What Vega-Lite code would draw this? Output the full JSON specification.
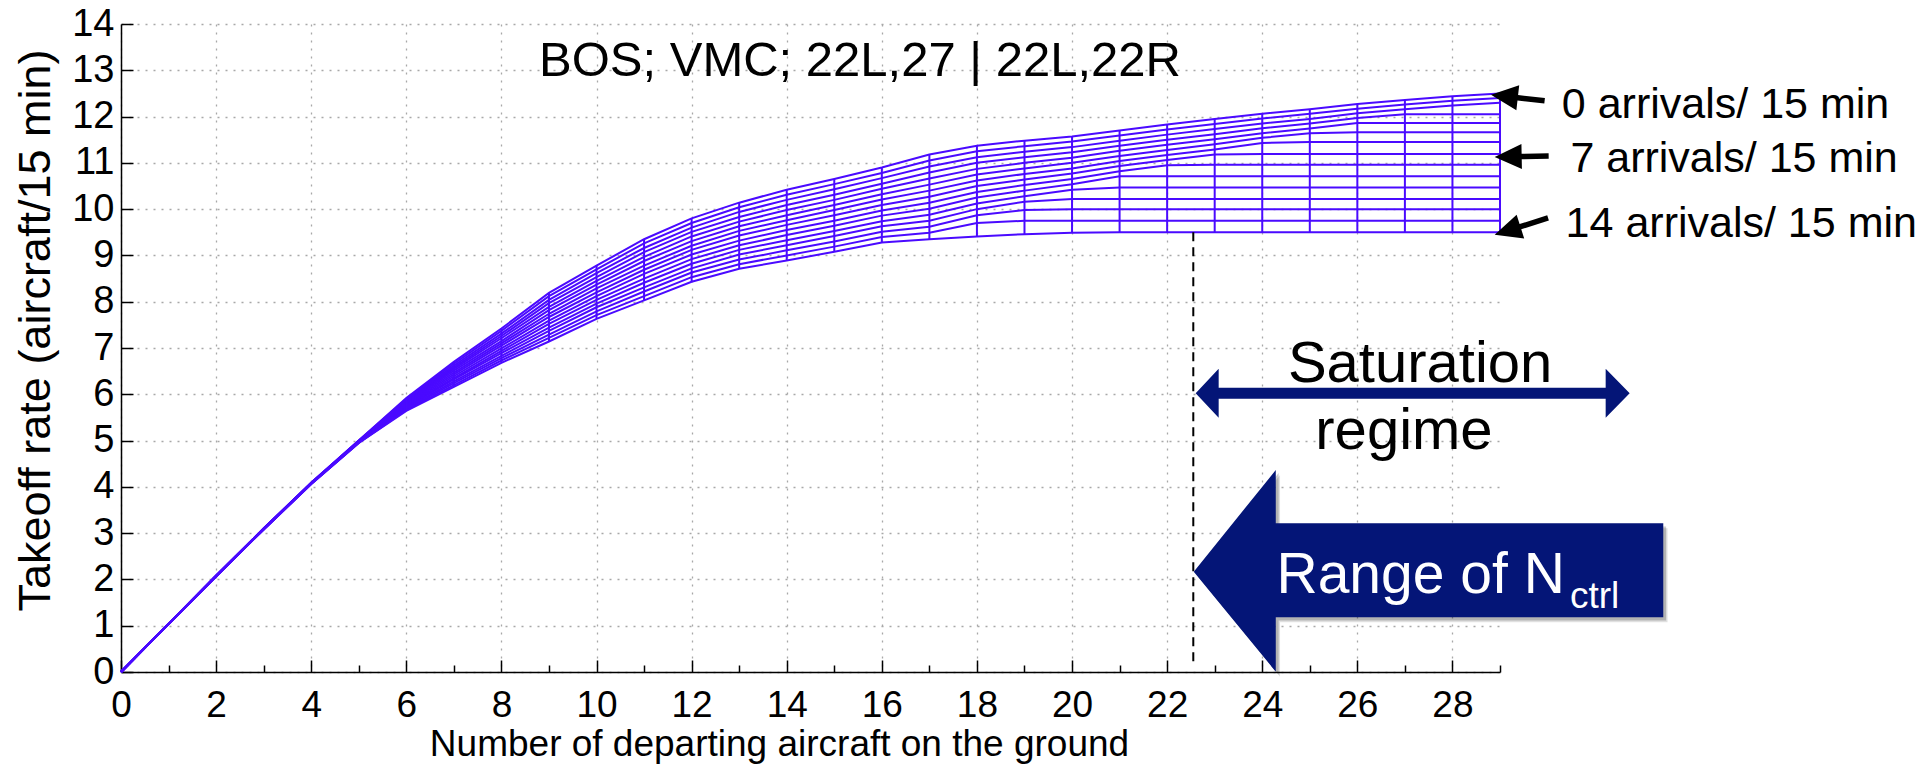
{
"$schema": "https://vega.github.io/schema/vega-lite/v6.json",
"width": 1379, "height": 648,
"autosize": "none",
"padding": {"left": 121, "top": 24, "right": 429, "bottom": 93},
"background": "white",
"config": {"font": "Liberation Sans", "view": {"stroke": null}},
"datasets": {
"mesh": [
{"x":0,"a":0,"y":0},{"x":0,"a":1,"y":0},{"x":0,"a":2,"y":0},{"x":0,"a":3,"y":0},{"x":0,"a":4,"y":0},{"x":0,"a":5,"y":0},{"x":0,"a":6,"y":0},{"x":0,"a":7,"y":0},{"x":0,"a":8,"y":0},{"x":0,"a":9,"y":0},{"x":0,"a":10,"y":0},{"x":0,"a":11,"y":0},{"x":0,"a":12,"y":0},{"x":0,"a":13,"y":0},{"x":0,"a":14,"y":0},
{"x":1,"a":0,"y":1.04},{"x":1,"a":1,"y":1.04},{"x":1,"a":2,"y":1.04},{"x":1,"a":3,"y":1.04},{"x":1,"a":4,"y":1.04},{"x":1,"a":5,"y":1.04},{"x":1,"a":6,"y":1.04},{"x":1,"a":7,"y":1.04},{"x":1,"a":8,"y":1.04},{"x":1,"a":9,"y":1.04},{"x":1,"a":10,"y":1.04},{"x":1,"a":11,"y":1.04},{"x":1,"a":12,"y":1.04},{"x":1,"a":13,"y":1.04},{"x":1,"a":14,"y":1.04},
{"x":2,"a":0,"y":2.08},{"x":2,"a":1,"y":2.08},{"x":2,"a":2,"y":2.08},{"x":2,"a":3,"y":2.08},{"x":2,"a":4,"y":2.08},{"x":2,"a":5,"y":2.08},{"x":2,"a":6,"y":2.08},{"x":2,"a":7,"y":2.07},{"x":2,"a":8,"y":2.07},{"x":2,"a":9,"y":2.07},{"x":2,"a":10,"y":2.07},{"x":2,"a":11,"y":2.07},{"x":2,"a":12,"y":2.07},{"x":2,"a":13,"y":2.07},{"x":2,"a":14,"y":2.07},
{"x":3,"a":0,"y":3.1},{"x":3,"a":1,"y":3.1},{"x":3,"a":2,"y":3.1},{"x":3,"a":3,"y":3.1},{"x":3,"a":4,"y":3.09},{"x":3,"a":5,"y":3.09},{"x":3,"a":6,"y":3.09},{"x":3,"a":7,"y":3.09},{"x":3,"a":8,"y":3.09},{"x":3,"a":9,"y":3.09},{"x":3,"a":10,"y":3.09},{"x":3,"a":11,"y":3.08},{"x":3,"a":12,"y":3.08},{"x":3,"a":13,"y":3.08},{"x":3,"a":14,"y":3.08},
{"x":4,"a":0,"y":4.09},{"x":4,"a":1,"y":4.09},{"x":4,"a":2,"y":4.09},{"x":4,"a":3,"y":4.08},{"x":4,"a":4,"y":4.08},{"x":4,"a":5,"y":4.08},{"x":4,"a":6,"y":4.08},{"x":4,"a":7,"y":4.07},{"x":4,"a":8,"y":4.07},{"x":4,"a":9,"y":4.07},{"x":4,"a":10,"y":4.07},{"x":4,"a":11,"y":4.07},{"x":4,"a":12,"y":4.06},{"x":4,"a":13,"y":4.06},{"x":4,"a":14,"y":4.06},
{"x":5,"a":0,"y":5.0},{"x":5,"a":1,"y":5.0},{"x":5,"a":2,"y":4.99},{"x":5,"a":3,"y":4.99},{"x":5,"a":4,"y":4.99},{"x":5,"a":5,"y":4.98},{"x":5,"a":6,"y":4.98},{"x":5,"a":7,"y":4.98},{"x":5,"a":8,"y":4.97},{"x":5,"a":9,"y":4.97},{"x":5,"a":10,"y":4.96},{"x":5,"a":11,"y":4.96},{"x":5,"a":12,"y":4.96},{"x":5,"a":13,"y":4.95},{"x":5,"a":14,"y":4.95},
{"x":6,"a":0,"y":5.92},{"x":6,"a":1,"y":5.9},{"x":6,"a":2,"y":5.88},{"x":6,"a":3,"y":5.86},{"x":6,"a":4,"y":5.84},{"x":6,"a":5,"y":5.82},{"x":6,"a":6,"y":5.8},{"x":6,"a":7,"y":5.78},{"x":6,"a":8,"y":5.76},{"x":6,"a":9,"y":5.74},{"x":6,"a":10,"y":5.72},{"x":6,"a":11,"y":5.7},{"x":6,"a":12,"y":5.68},{"x":6,"a":13,"y":5.66},{"x":6,"a":14,"y":5.64},
{"x":7,"a":0,"y":6.7},{"x":7,"a":1,"y":6.66},{"x":7,"a":2,"y":6.62},{"x":7,"a":3,"y":6.58},{"x":7,"a":4,"y":6.55},{"x":7,"a":5,"y":6.51},{"x":7,"a":6,"y":6.47},{"x":7,"a":7,"y":6.43},{"x":7,"a":8,"y":6.39},{"x":7,"a":9,"y":6.35},{"x":7,"a":10,"y":6.32},{"x":7,"a":11,"y":6.28},{"x":7,"a":12,"y":6.24},{"x":7,"a":13,"y":6.2},{"x":7,"a":14,"y":6.16},
{"x":8,"a":0,"y":7.42},{"x":8,"a":1,"y":7.37},{"x":8,"a":2,"y":7.31},{"x":8,"a":3,"y":7.26},{"x":8,"a":4,"y":7.21},{"x":8,"a":5,"y":7.15},{"x":8,"a":6,"y":7.1},{"x":8,"a":7,"y":7.05},{"x":8,"a":8,"y":6.99},{"x":8,"a":9,"y":6.94},{"x":8,"a":10,"y":6.89},{"x":8,"a":11,"y":6.83},{"x":8,"a":12,"y":6.78},{"x":8,"a":13,"y":6.73},{"x":8,"a":14,"y":6.68},
{"x":9,"a":0,"y":8.19},{"x":9,"a":1,"y":8.12},{"x":9,"a":2,"y":8.04},{"x":9,"a":3,"y":7.97},{"x":9,"a":4,"y":7.89},{"x":9,"a":5,"y":7.82},{"x":9,"a":6,"y":7.74},{"x":9,"a":7,"y":7.67},{"x":9,"a":8,"y":7.59},{"x":9,"a":9,"y":7.52},{"x":9,"a":10,"y":7.44},{"x":9,"a":11,"y":7.37},{"x":9,"a":12,"y":7.29},{"x":9,"a":13,"y":7.22},{"x":9,"a":14,"y":7.14},
{"x":10,"a":0,"y":8.78},{"x":10,"a":1,"y":8.7},{"x":10,"a":2,"y":8.62},{"x":10,"a":3,"y":8.53},{"x":10,"a":4,"y":8.45},{"x":10,"a":5,"y":8.37},{"x":10,"a":6,"y":8.29},{"x":10,"a":7,"y":8.2},{"x":10,"a":8,"y":8.12},{"x":10,"a":9,"y":8.04},{"x":10,"a":10,"y":7.96},{"x":10,"a":11,"y":7.88},{"x":10,"a":12,"y":7.79},{"x":10,"a":13,"y":7.71},{"x":10,"a":14,"y":7.63},
{"x":11,"a":0,"y":9.35},{"x":11,"a":1,"y":9.26},{"x":11,"a":2,"y":9.16},{"x":11,"a":3,"y":9.07},{"x":11,"a":4,"y":8.97},{"x":11,"a":5,"y":8.88},{"x":11,"a":6,"y":8.78},{"x":11,"a":7,"y":8.69},{"x":11,"a":8,"y":8.6},{"x":11,"a":9,"y":8.5},{"x":11,"a":10,"y":8.41},{"x":11,"a":11,"y":8.31},{"x":11,"a":12,"y":8.22},{"x":11,"a":13,"y":8.12},{"x":11,"a":14,"y":8.03},
{"x":12,"a":0,"y":9.8},{"x":12,"a":1,"y":9.7},{"x":12,"a":2,"y":9.6},{"x":12,"a":3,"y":9.51},{"x":12,"a":4,"y":9.41},{"x":12,"a":5,"y":9.31},{"x":12,"a":6,"y":9.21},{"x":12,"a":7,"y":9.12},{"x":12,"a":8,"y":9.02},{"x":12,"a":9,"y":8.92},{"x":12,"a":10,"y":8.82},{"x":12,"a":11,"y":8.72},{"x":12,"a":12,"y":8.63},{"x":12,"a":13,"y":8.53},{"x":12,"a":14,"y":8.43},
{"x":13,"a":0,"y":10.14},{"x":13,"a":1,"y":10.04},{"x":13,"a":2,"y":9.94},{"x":13,"a":3,"y":9.83},{"x":13,"a":4,"y":9.73},{"x":13,"a":5,"y":9.63},{"x":13,"a":6,"y":9.53},{"x":13,"a":7,"y":9.43},{"x":13,"a":8,"y":9.32},{"x":13,"a":9,"y":9.22},{"x":13,"a":10,"y":9.12},{"x":13,"a":11,"y":9.02},{"x":13,"a":12,"y":8.91},{"x":13,"a":13,"y":8.81},{"x":13,"a":14,"y":8.71},
{"x":14,"a":0,"y":10.42},{"x":14,"a":1,"y":10.31},{"x":14,"a":2,"y":10.2},{"x":14,"a":3,"y":10.09},{"x":14,"a":4,"y":9.98},{"x":14,"a":5,"y":9.87},{"x":14,"a":6,"y":9.76},{"x":14,"a":7,"y":9.66},{"x":14,"a":8,"y":9.55},{"x":14,"a":9,"y":9.44},{"x":14,"a":10,"y":9.33},{"x":14,"a":11,"y":9.22},{"x":14,"a":12,"y":9.11},{"x":14,"a":13,"y":9.0},{"x":14,"a":14,"y":8.89},
{"x":15,"a":0,"y":10.65},{"x":15,"a":1,"y":10.54},{"x":15,"a":2,"y":10.43},{"x":15,"a":3,"y":10.31},{"x":15,"a":4,"y":10.2},{"x":15,"a":5,"y":10.09},{"x":15,"a":6,"y":9.98},{"x":15,"a":7,"y":9.87},{"x":15,"a":8,"y":9.75},{"x":15,"a":9,"y":9.64},{"x":15,"a":10,"y":9.53},{"x":15,"a":11,"y":9.42},{"x":15,"a":12,"y":9.3},{"x":15,"a":13,"y":9.19},{"x":15,"a":14,"y":9.08},
{"x":16,"a":0,"y":10.9},{"x":16,"a":1,"y":10.78},{"x":16,"a":2,"y":10.67},{"x":16,"a":3,"y":10.55},{"x":16,"a":4,"y":10.44},{"x":16,"a":5,"y":10.32},{"x":16,"a":6,"y":10.21},{"x":16,"a":7,"y":10.09},{"x":16,"a":8,"y":9.97},{"x":16,"a":9,"y":9.86},{"x":16,"a":10,"y":9.74},{"x":16,"a":11,"y":9.63},{"x":16,"a":12,"y":9.51},{"x":16,"a":13,"y":9.4},{"x":16,"a":14,"y":9.28},
{"x":17,"a":0,"y":11.18},{"x":17,"a":1,"y":11.05},{"x":17,"a":2,"y":10.92},{"x":17,"a":3,"y":10.79},{"x":17,"a":4,"y":10.66},{"x":17,"a":5,"y":10.53},{"x":17,"a":6,"y":10.4},{"x":17,"a":7,"y":10.27},{"x":17,"a":8,"y":10.14},{"x":17,"a":9,"y":10.01},{"x":17,"a":10,"y":9.88},{"x":17,"a":11,"y":9.75},{"x":17,"a":12,"y":9.62},{"x":17,"a":13,"y":9.49},{"x":17,"a":14,"y":9.35},
{"x":18,"a":0,"y":11.37},{"x":18,"a":1,"y":11.25},{"x":18,"a":2,"y":11.12},{"x":18,"a":3,"y":11.0},{"x":18,"a":4,"y":10.87},{"x":18,"a":5,"y":10.75},{"x":18,"a":6,"y":10.62},{"x":18,"a":7,"y":10.5},{"x":18,"a":8,"y":10.37},{"x":18,"a":9,"y":10.25},{"x":18,"a":10,"y":10.12},{"x":18,"a":11,"y":10.0},{"x":18,"a":12,"y":9.87},{"x":18,"a":13,"y":9.7},{"x":18,"a":14,"y":9.41},
{"x":19,"a":0,"y":11.48},{"x":19,"a":1,"y":11.36},{"x":19,"a":2,"y":11.24},{"x":19,"a":3,"y":11.12},{"x":19,"a":4,"y":11.0},{"x":19,"a":5,"y":10.88},{"x":19,"a":6,"y":10.76},{"x":19,"a":7,"y":10.64},{"x":19,"a":8,"y":10.52},{"x":19,"a":9,"y":10.4},{"x":19,"a":10,"y":10.28},{"x":19,"a":11,"y":10.16},{"x":19,"a":12,"y":9.98},{"x":19,"a":13,"y":9.75},{"x":19,"a":14,"y":9.46},
{"x":20,"a":0,"y":11.57},{"x":20,"a":1,"y":11.46},{"x":20,"a":2,"y":11.34},{"x":20,"a":3,"y":11.23},{"x":20,"a":4,"y":11.11},{"x":20,"a":5,"y":11.0},{"x":20,"a":6,"y":10.88},{"x":20,"a":7,"y":10.77},{"x":20,"a":8,"y":10.65},{"x":20,"a":9,"y":10.54},{"x":20,"a":10,"y":10.42},{"x":20,"a":11,"y":10.22},{"x":20,"a":12,"y":10.0},{"x":20,"a":13,"y":9.75},{"x":20,"a":14,"y":9.49},
{"x":21,"a":0,"y":11.7},{"x":21,"a":1,"y":11.59},{"x":21,"a":2,"y":11.48},{"x":21,"a":3,"y":11.37},{"x":21,"a":4,"y":11.26},{"x":21,"a":5,"y":11.15},{"x":21,"a":6,"y":11.04},{"x":21,"a":7,"y":10.93},{"x":21,"a":8,"y":10.82},{"x":21,"a":9,"y":10.71},{"x":21,"a":10,"y":10.47},{"x":21,"a":11,"y":10.22},{"x":21,"a":12,"y":10.0},{"x":21,"a":13,"y":9.75},{"x":21,"a":14,"y":9.5},
{"x":22,"a":0,"y":11.83},{"x":22,"a":1,"y":11.72},{"x":22,"a":2,"y":11.61},{"x":22,"a":3,"y":11.5},{"x":22,"a":4,"y":11.39},{"x":22,"a":5,"y":11.28},{"x":22,"a":6,"y":11.17},{"x":22,"a":7,"y":11.06},{"x":22,"a":8,"y":10.95},{"x":22,"a":9,"y":10.71},{"x":22,"a":10,"y":10.47},{"x":22,"a":11,"y":10.22},{"x":22,"a":12,"y":10.0},{"x":22,"a":13,"y":9.75},{"x":22,"a":14,"y":9.5},
{"x":23,"a":0,"y":11.95},{"x":23,"a":1,"y":11.84},{"x":23,"a":2,"y":11.73},{"x":23,"a":3,"y":11.62},{"x":23,"a":4,"y":11.51},{"x":23,"a":5,"y":11.4},{"x":23,"a":6,"y":11.29},{"x":23,"a":7,"y":11.18},{"x":23,"a":8,"y":10.96},{"x":23,"a":9,"y":10.71},{"x":23,"a":10,"y":10.47},{"x":23,"a":11,"y":10.22},{"x":23,"a":12,"y":10.0},{"x":23,"a":13,"y":9.75},{"x":23,"a":14,"y":9.5},
{"x":24,"a":0,"y":12.06},{"x":24,"a":1,"y":11.96},{"x":24,"a":2,"y":11.85},{"x":24,"a":3,"y":11.75},{"x":24,"a":4,"y":11.64},{"x":24,"a":5,"y":11.54},{"x":24,"a":6,"y":11.43},{"x":24,"a":7,"y":11.19},{"x":24,"a":8,"y":10.96},{"x":24,"a":9,"y":10.71},{"x":24,"a":10,"y":10.47},{"x":24,"a":11,"y":10.22},{"x":24,"a":12,"y":10.0},{"x":24,"a":13,"y":9.75},{"x":24,"a":14,"y":9.5},
{"x":25,"a":0,"y":12.16},{"x":25,"a":1,"y":12.06},{"x":25,"a":2,"y":11.95},{"x":25,"a":3,"y":11.85},{"x":25,"a":4,"y":11.74},{"x":25,"a":5,"y":11.64},{"x":25,"a":6,"y":11.45},{"x":25,"a":7,"y":11.19},{"x":25,"a":8,"y":10.96},{"x":25,"a":9,"y":10.71},{"x":25,"a":10,"y":10.47},{"x":25,"a":11,"y":10.22},{"x":25,"a":12,"y":10.0},{"x":25,"a":13,"y":9.75},{"x":25,"a":14,"y":9.5},
{"x":26,"a":0,"y":12.27},{"x":26,"a":1,"y":12.17},{"x":26,"a":2,"y":12.07},{"x":26,"a":3,"y":11.97},{"x":26,"a":4,"y":11.86},{"x":26,"a":5,"y":11.66},{"x":26,"a":6,"y":11.45},{"x":26,"a":7,"y":11.19},{"x":26,"a":8,"y":10.96},{"x":26,"a":9,"y":10.71},{"x":26,"a":10,"y":10.47},{"x":26,"a":11,"y":10.22},{"x":26,"a":12,"y":10.0},{"x":26,"a":13,"y":9.75},{"x":26,"a":14,"y":9.5},
{"x":27,"a":0,"y":12.36},{"x":27,"a":1,"y":12.26},{"x":27,"a":2,"y":12.16},{"x":27,"a":3,"y":12.05},{"x":27,"a":4,"y":11.86},{"x":27,"a":5,"y":11.66},{"x":27,"a":6,"y":11.45},{"x":27,"a":7,"y":11.19},{"x":27,"a":8,"y":10.96},{"x":27,"a":9,"y":10.71},{"x":27,"a":10,"y":10.47},{"x":27,"a":11,"y":10.22},{"x":27,"a":12,"y":10.0},{"x":27,"a":13,"y":9.75},{"x":27,"a":14,"y":9.5},
{"x":28,"a":0,"y":12.44},{"x":28,"a":1,"y":12.34},{"x":28,"a":2,"y":12.24},{"x":28,"a":3,"y":12.05},{"x":28,"a":4,"y":11.86},{"x":28,"a":5,"y":11.66},{"x":28,"a":6,"y":11.45},{"x":28,"a":7,"y":11.19},{"x":28,"a":8,"y":10.96},{"x":28,"a":9,"y":10.71},{"x":28,"a":10,"y":10.47},{"x":28,"a":11,"y":10.22},{"x":28,"a":12,"y":10.0},{"x":28,"a":13,"y":9.75},{"x":28,"a":14,"y":9.5},
{"x":29,"a":0,"y":12.5},{"x":29,"a":1,"y":12.4},{"x":29,"a":2,"y":12.3},{"x":29,"a":3,"y":12.05},{"x":29,"a":4,"y":11.86},{"x":29,"a":5,"y":11.66},{"x":29,"a":6,"y":11.45},{"x":29,"a":7,"y":11.19},{"x":29,"a":8,"y":10.96},{"x":29,"a":9,"y":10.71},{"x":29,"a":10,"y":10.47},{"x":29,"a":11,"y":10.22},{"x":29,"a":12,"y":10.0},{"x":29,"a":13,"y":9.75},{"x":29,"a":14,"y":9.5}
]
},
"layer": [
{
"data": {"name": "mesh"},
"mark": {"type": "line", "color": "#4a0aff", "strokeWidth": 2},
"encoding": {
"x": {"field": "x", "type": "quantitative", "scale": {"domain": [0, 29], "nice": false, "zero": false},
"axis": {"values": [0,1,2,3,4,5,6,7,8,9,10,11,12,13,14,15,16,17,18,19,20,21,22,23,24,25,26,27,28,29],
"labelExpr": "datum.value % 2 === 0 ? datum.label : ''",
"tickSize": {"condition": {"test": "datum.value % 2 === 0", "value": -12}, "value": -7},
"grid": true,
"gridOpacity": {"condition": {"test": "datum.value % 2 === 0", "value": 1}, "value": 0},
"gridDash": [2, 6], "gridColor": "#a8a8a8", "gridWidth": 1.3,
"domainColor": "#000000", "domainWidth": 1.5, "tickColor": "#000000", "tickWidth": 1.5,
"labelFontSize": 37, "labelColor": "#000000", "labelPadding": 27, "labelFlush": false, "labelOverlap": false,
"title": "Number of departing aircraft on the ground", "titleFontSize": 37, "titleFontWeight": "normal", "titleColor": "#000000",
"titleX": 658, "titleY": 83, "titleBaseline": "alphabetic", "titleAlign": "center"}},
"y": {"field": "y", "type": "quantitative", "scale": {"domain": [0, 14], "nice": false},
"axis": {"values": [0,1,2,3,4,5,6,7,8,9,10,11,12,13,14],
"tickSize": -12, "grid": true, "gridDash": [2, 6], "gridColor": "#a8a8a8", "gridWidth": 1.3,
"domainColor": "#000000", "domainWidth": 1.5, "tickColor": "#000000", "tickWidth": 1.5,
"labelFontSize": 38, "labelColor": "#000000", "labelPadding": 19, "labelFlush": false, "labelOverlap": false,
"title": "Takeoff rate (aircraft/15 min)", "titleFontSize": 45, "titleFontWeight": "normal", "titleColor": "#000000",
"titleX": -72, "titleY": 306, "titleBaseline": "alphabetic", "titleAlign": "center", "titleAngle": 270}},
"detail": {"field": "a", "type": "nominal"}
}
},
{
"data": {"name": "mesh"},
"mark": {"type": "line", "color": "#4a0aff", "strokeWidth": 2},
"encoding": {
"x": {"field": "x", "type": "quantitative"},
"y": {"field": "y", "type": "quantitative"},
"detail": {"field": "x", "type": "quantitative"},
"order": {"field": "a", "type": "quantitative"}
}
},
{
"data": {"values": [{"x": 22.55, "y": 0.23, "y2": 9.5}]},
"mark": {"type": "rule", "color": "#000000", "strokeWidth": 2, "strokeDash": [9, 6]},
"encoding": {"x": {"field": "x", "type": "quantitative"}, "y": {"field": "y", "type": "quantitative"}, "y2": {"field": "y2"}}
},
{
"data": {"values": [{"x": 22.65, "y": 2.06}]},
"mark": {"type": "point", "shape": "M0,0 L82,-101.7 L82,-48.4 L469.5,-48.4 L469.5,45.6 L82,45.6 L82,100 Z", "size": 4, "filled": true, "color": "#000000", "opacity": 0.12, "strokeWidth": 0},
"encoding": {"x": {"field": "x", "type": "quantitative"}, "y": {"field": "y", "type": "quantitative"}}
},
{
"data": {"values": [{"x": 22.62, "y": 2.1}]},
"mark": {"type": "point", "shape": "M0,0 L82,-101.7 L82,-48.4 L469.5,-48.4 L469.5,45.6 L82,45.6 L82,100 Z", "size": 4, "filled": true, "color": "#000000", "opacity": 0.2, "strokeWidth": 0},
"encoding": {"x": {"field": "x", "type": "quantitative"}, "y": {"field": "y", "type": "quantitative"}}
},
{
"data": {"values": [{"x": 22.56, "y": 2.167}]},
"mark": {"type": "point", "shape": "M0,0 L82,-101.7 L82,-48.4 L469.5,-48.4 L469.5,45.6 L82,45.6 L82,100 Z", "size": 4, "filled": true, "color": "#041577", "opacity": 1, "strokeWidth": 0},
"encoding": {"x": {"field": "x", "type": "quantitative"}, "y": {"field": "y", "type": "quantitative"}}
},
{
"data": {"values": [{"x": 22.6, "y": 6.02}]},
"mark": {"type": "point", "shape": "M0,0 L23,-24.5 L23,-5.5 L410,-5.5 L410,-24.5 L434,0 L410,24.5 L410,5.5 L23,5.5 L23,24.5 Z", "size": 4, "filled": true, "color": "#041577", "opacity": 1, "strokeWidth": 0},
"encoding": {"x": {"field": "x", "type": "quantitative"}, "y": {"field": "y", "type": "quantitative"}}
},
{
"data": {"values": [{"x": 28.81, "y": 12.473}]},
"mark": {"type": "point", "shape": "M0,0 L27,-12.5 L27,-2.75 L54,-2.75 L54,2.75 L27,2.75 L27,12.5 Z", "size": 4, "angle": 6.5, "filled": true, "color": "#000000", "opacity": 1, "strokeWidth": 0},
"encoding": {"x": {"field": "x", "type": "quantitative"}, "y": {"field": "y", "type": "quantitative"}}
},
{
"data": {"values": [{"x": 28.888, "y": 11.125}]},
"mark": {"type": "point", "shape": "M0,0 L27,-12.5 L27,-2.75 L54,-2.75 L54,2.75 L27,2.75 L27,12.5 Z", "size": 4, "angle": -1.1, "filled": true, "color": "#000000", "opacity": 1, "strokeWidth": 0},
"encoding": {"x": {"field": "x", "type": "quantitative"}, "y": {"field": "y", "type": "quantitative"}}
},
{
"data": {"values": [{"x": 28.888, "y": 9.445}]},
"mark": {"type": "point", "shape": "M0,0 L27,-12.5 L27,-2.75 L56,-2.75 L56,2.75 L27,2.75 L27,12.5 Z", "size": 4, "angle": -17.6, "filled": true, "color": "#000000", "opacity": 1, "strokeWidth": 0},
"encoding": {"x": {"field": "x", "type": "quantitative"}, "y": {"field": "y", "type": "quantitative"}}
},
{
"data": {"values": [{"x": 15.54, "y": 12.875, "t": "BOS; VMC; 22L,27 | 22L,22R"}]},
"mark": {"type": "text", "fontSize": 49, "align": "center", "baseline": "alphabetic", "color": "#000000"},
"encoding": {"x": {"field": "x", "type": "quantitative"}, "y": {"field": "y", "type": "quantitative"}, "text": {"field": "t"}}
},
{
"data": {"values": [
{"x": 30.3, "y": 11.976, "t": "0 arrivals/ 15 min"},
{"x": 30.48, "y": 10.795, "t": "7 arrivals/ 15 min"},
{"x": 30.38, "y": 9.408, "t": "14 arrivals/ 15 min"}
]},
"mark": {"type": "text", "fontSize": 43, "align": "left", "baseline": "alphabetic", "color": "#000000"},
"encoding": {"x": {"field": "x", "type": "quantitative"}, "y": {"field": "y", "type": "quantitative"}, "text": {"field": "t"}}
},
{
"data": {"values": [
{"x": 27.32, "y": 6.27, "t": "Saturation"},
{"x": 26.98, "y": 4.82, "t": "regime"}
]},
"mark": {"type": "text", "fontSize": 58, "align": "center", "baseline": "alphabetic", "color": "#000000"},
"encoding": {"x": {"field": "x", "type": "quantitative"}, "y": {"field": "y", "type": "quantitative"}, "text": {"field": "t"}}
},
{
"data": {"values": [{"x": 24.3, "y": 1.7, "t": "Range of N"}]},
"mark": {"type": "text", "fontSize": 57, "align": "left", "baseline": "alphabetic", "color": "#ffffff"},
"encoding": {"x": {"field": "x", "type": "quantitative"}, "y": {"field": "y", "type": "quantitative"}, "text": {"field": "t"}}
},
{
"data": {"values": [{"x": 30.47, "y": 1.376, "t": "ctrl"}]},
"mark": {"type": "text", "fontSize": 37, "align": "left", "baseline": "alphabetic", "color": "#ffffff"},
"encoding": {"x": {"field": "x", "type": "quantitative"}, "y": {"field": "y", "type": "quantitative"}, "text": {"field": "t"}}
}
]
}
